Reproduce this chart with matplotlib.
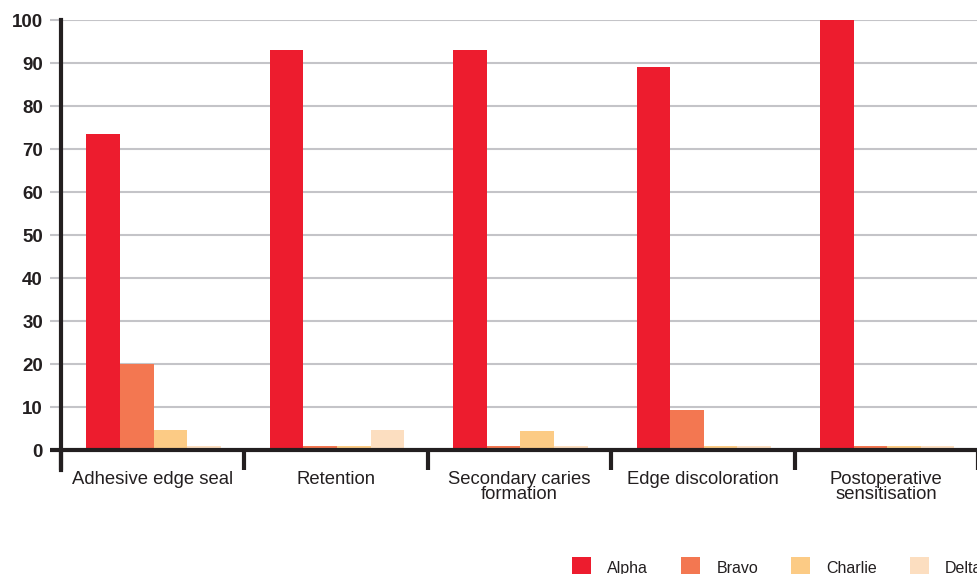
import numpy as np
import matplotlib
matplotlib.use('Agg')
import matplotlib.pyplot as plt

plt.rcParams['font.family'] = ['Liberation Sans', 'DejaVu Sans']

categories = ['Adhesive edge seal', 'Retention', 'Secondary caries\nformation',
              'Edge discoloration', 'Postoperative\nsensitisation']
series_names = ['Alpha', 'Bravo', 'Charlie', 'Delta']
alpha = [73.5, 93, 93, 89, 100]
bravo = [20, 1.0, 1.0, 9.2, 1.0]
charlie = [4.7, 1.0, 4.5, 1.0, 1.0]
delta = [1.0, 4.7, 1.0, 1.0, 1.0]
colors = ['#ED1C2E', '#F37751', '#FCCB85', '#FCDEC0']

fig = plt.figure(figsize=(9.78, 5.74), dpi=100)
ax = fig.add_axes([61 / 978, 1 - 470 / 574, 1 - 61 / 978, 450 / 574])

x = np.arange(len(categories))
width = 0.183
bars = []
for i, (vals, name, c) in enumerate(zip([alpha, bravo, charlie, delta], series_names, colors)):
    b = ax.bar(x + (i - 1.5) * width + 0.005, vals, width, color=c, label=name, zorder=3)
    bars.append(b)

ymin = -4.65
ax.set_ylim(ymin, 100)
ax.set_xlim(-0.5, 4.5)

# grid lines
for v in range(10, 101, 10):
    ax.axhline(v, color='#c4c4c8', lw=1.5, zorder=1)

# zero line
ax.plot([-0.56, 4.5], [0, 0], color='#231f20', lw=3, zorder=4, clip_on=False,
        solid_capstyle='butt')
# category separators
for s in np.arange(-0.5, 5, 1):
    ax.plot([s, s], [0, ymin], color='#231f20', lw=3, zorder=4, clip_on=False,
            solid_capstyle='butt')

for sp in ['top', 'right', 'bottom']:
    ax.spines[sp].set_visible(False)
ax.spines['left'].set_linewidth(3)
ax.spines['left'].set_color('#231f20')
ax.spines['left'].set_zorder(5)

ax.set_yticks(range(0, 101, 10))
ax.set_yticklabels([str(v) for v in range(0, 101, 10)], fontsize=13.5,
                   fontweight='bold', color='#231f20')
ax.tick_params(axis='y', length=8, width=1.5, color='#c4c4c8', pad=5)
ax.yaxis.get_major_ticks()[0].tick1line.set_color('#231f20')

ax.set_xticks(x)
ax.set_xticklabels(categories, fontsize=13.3, color='#231f20', linespacing=0.9,
                   va='top')
ax.tick_params(axis='x', length=0, pad=0.5)

fig.legend(handles=bars, labels=series_names, ncol=4, loc='upper left',
           bbox_to_anchor=(566 / 978, 1 - 551 / 574), frameon=False, fontsize=11.5,
           handlelength=1.19, handleheight=1.6, handletextpad=1.0,
           columnspacing=2.07, borderaxespad=0, labelcolor='#231f20')

fig.savefig('out.png', dpi=100)
